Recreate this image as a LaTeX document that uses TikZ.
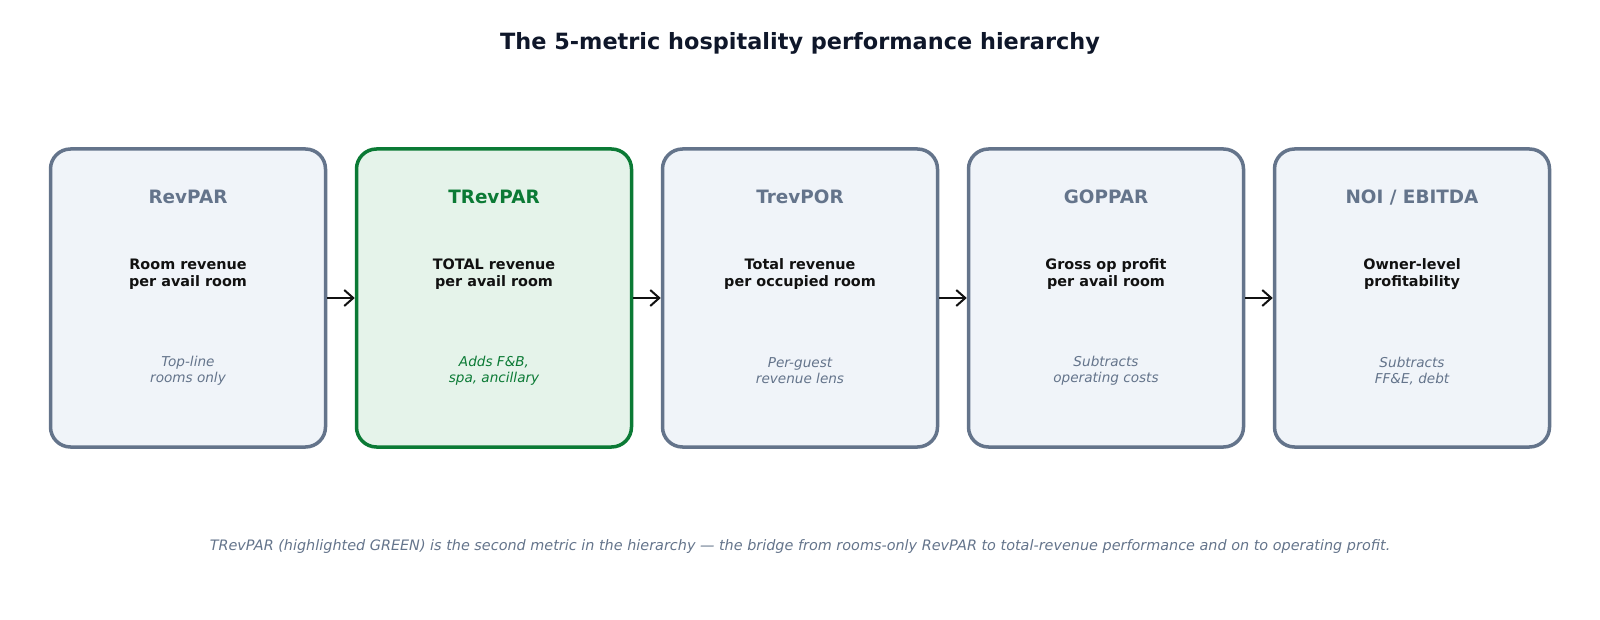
\documentclass[tikz,border=0pt]{standalone}
\usepackage{fontspec}
\setmainfont{DejaVu Sans}
\usetikzlibrary{arrows.meta}
\definecolor{slateb}{HTML}{64748B}
\definecolor{slatef}{HTML}{F0F4F9}
\definecolor{greenb}{HTML}{0B7A35}
\definecolor{greenf}{HTML}{E5F3EA}
\definecolor{titlec}{HTML}{0F172A}
\definecolor{desc}{HTML}{111111}
\tikzset{
  metricbox/.style={draw=slateb, fill=slatef, line width=1.75pt, rounded corners=10pt, minimum width=137.5pt, minimum height=149pt, inner sep=0pt},
  hibox/.style={metricbox, draw=greenb, fill=greenf},
  mname/.style={font=\bfseries\fontsize{9.2}{11}\selectfont, text=slateb},
  mdesc/.style={font=\bfseries\fontsize{7.2}{8.3}\selectfont, text=desc, align=center},
  mnote/.style={font=\itshape\fontsize{6.8}{8}\selectfont, text=slateb, align=center},
  conn/.style={-{Straight Barb[length=4.5pt,width=8pt]}, line width=1pt, draw=desc},
}
\begin{document}
\begin{tikzpicture}[x=0.5pt,y=-0.5pt]
\useasboundingbox (0,0) rectangle (1600,620);
\node[font=\bfseries\fontsize{11.2}{13}\selectfont, text=titlec] (title) at (800,43) {The 5-metric hospitality performance hierarchy};
% boxes
\node[metricbox] (b1) at (188,298) {};
\node[hibox] (b2) at (494,298) {};
\node[metricbox] (b3) at (800,298) {};
\node[metricbox] (b4) at (1106,298) {};
\node[metricbox] (b5) at (1412,298) {};
% names
\node[mname] (n1) at (188,197) {RevPAR};
\node[mname, text=greenb] (n2) at (494,197) {TRevPAR};
\node[mname] (n3) at (800,197) {TrevPOR};
\node[mname] (n4) at (1106,197) {GOPPAR};
\node[mname] (n5) at (1412,197.5) {NOI / EBITDA};
% descriptions
\node[mdesc] (d1) at (188,274) {Room revenue\\per avail room};
\node[mdesc] (d2) at (494,274) {TOTAL revenue\\per avail room};
\node[mdesc] (d3) at (800,274) {Total revenue\\per occupied room};
\node[mdesc] (d4) at (1106,274) {Gross op profit\\per avail room};
\node[mdesc] (d5) at (1412,274) {Owner-level\\profitability};
% notes
\node[mnote] (t1) at (188,371) {Top-line\\rooms only};
\node[mnote, text=greenb] (t2) at (494,371) {Adds F\&B,\\spa, ancillary};
\node[mnote] (t3) at (800,371) {Per-guest\\revenue lens};
\node[mnote] (t4) at (1106,371) {Subtracts\\operating costs};
\node[mnote] (t5) at (1412,371) {Subtracts\\FF\&E, debt};
% connectors
\draw[conn] (b1.east) -- (b2.west);
\draw[conn] (b2.east) -- (b3.west);
\draw[conn] (b3.east) -- (b4.west);
\draw[conn] (b4.east) -- (b5.west);
% footer
\node[font=\itshape\fontsize{7.2}{9}\selectfont, text=slateb] (foot) at (800,546.5) {TRevPAR (highlighted GREEN) is the second metric in the hierarchy — the bridge from rooms-only RevPAR to total-revenue performance and on to operating profit.};
\end{tikzpicture}
\end{document}
